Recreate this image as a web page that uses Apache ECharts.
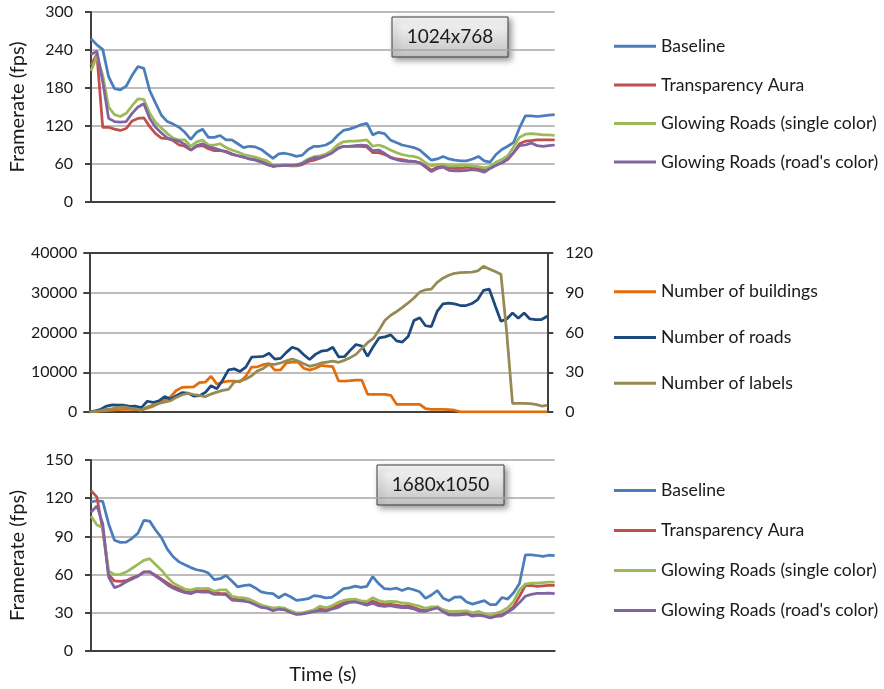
<!DOCTYPE html>
<html>
<head>
<meta charset="utf-8">
<script src="https://cdn.jsdelivr.net/npm/echarts@6/dist/echarts.min.js"></script>
<style>
  html, body { margin: 0; padding: 0; background: #ffffff; }
  #chart { width: 884px; height: 689px; }
</style>
</head>
<body>
<div id="chart"></div>
<script>
// Sample index along the recording (80 samples per run)
const timeSteps = Array.from({ length: 80 }, (_, i) => i);

// ---- 1024x768 framerate (fps) ----
const hdBaseline = [258,248,241,198,179,177,183,200,214,211,
  176,156,137,127,123,118,110,99,110,115,
  102,102,105,98,98,92,86,88,87,83,
  76,69,76,77,75,72,74,83,88,88,
  90,95,105,113,115,118,122,124,106,110,
  108,98,94,90,88,86,82,74,66,68,
  72,68,66,65,65,68,72,65,63,75,
  83,88,94,117,136,136,135,136,137,138];
const hdAura = [216,233,118,118,115,113,116,128,132,133,
  119,108,101,100,97,90,88,82,88,89,
  84,81,81,80,76,73,71,68,67,65,
  60,56,58,58,57,57,59,64,66,69,
  73,79,85,88,88,88,88,87,78,78,
  75,71,68,67,65,64,62,57,50,55,
  57,54,53,53,55,54,53,50.5,54,58,
  62,67,78,92,96,97,98,98,98,98];
const hdGlowSingle = [207,230,200,150,138,135,140,152,163,162,
  140,126,117,108,101,98,98,88,95,98,
  90,90,92,86,82,79,75,73,71,68,
  65,58,58,59,58,58,62,68,71.5,73,
  75.5,81,90,95,96,96,97,98,88,90,
  87,82,78,75,73,72,69,62,57,59,
  60,57,57,58,58,57,56,54,56,63,
  67,73,87,102,107,108,107,106,106,105];
const hdGlowRoad = [233,238,190,132,127,126,127,140,150,155,
  132,118,109,101,98,96,91,82,89,92,
  87,85,82,79,75,73,71,68,66,63,
  59,57,57,58,58,58.5,60.5,66,70,70,
  73,77,84,88,88,89,90,89,81,82,
  77,70,67,65,64,64,62,55,48,53,
  55,50,49,49,50,51,50,47,53,58,
  62,68,78,89,90,93,89,88,89,90];

// ---- Scene content ----
const buildings = [0,100,250,350,500,600,670,670,600,500,
  950,1450,2200,3100,3800,5400,6200,6280,6300,7400,
  7500,9000,7000,7500,7780,7780,7600,9000,11300,11380,
  11900,12200,10540,10600,12380,12550,12550,11000,10540,11000,
  11700,11550,11400,7800,7780,7900,8030,8030,4440,4440,
  4440,4440,4200,1920,1920,1920,1920,1920,840,670,
  670,670,600,450,50,30,30,30,30,30,
  30,30,30,30,30,30,30,30,30,30];
const roads = [0,300,700,1500,1800,1700,1700,1400,1450,1100,
  2700,2400,2800,3900,3200,4100,4850,4750,4000,4100,
  4900,6600,5860,8000,10600,10850,10200,11300,13800,13900,
  14000,14800,13300,13500,15000,16300,15800,14400,13200,14500,
  15300,15480,16300,13890,13900,15500,16990,16600,14000,16500,
  18660,18900,19400,17900,17600,19000,23000,23700,21700,21500,
  25300,27200,27400,27200,26780,26780,27280,28300,30600,30900,
  26800,22850,23400,24900,23600,24900,23400,23260,23260,24100];
const labels = [0,0.5,1,2,2.5,3.5,3.8,3,2,1.5,
  3.8,5.2,6.5,7.4,8.5,11,13,14,13.2,12.5,
  11.5,13.5,15,16.3,17,22.6,23.5,24.8,27.4,31,
  32.9,36,36,37,38.6,40,38.5,36.5,34.5,35.5,
  37,37.7,38.4,37.5,39,41,43.5,48,52.3,55.5,
  62,69.3,73,75.8,79,82.3,86,90.5,92.2,92.8,
  97.9,101,103.2,104.7,105.2,105.4,105.6,106.5,109.9,108,
  106,104,60,6.5,6.5,6.5,6.3,5.8,4.5,5];

// ---- 1680x1050 framerate (fps) ----
const fhdBaseline = [117,118,117.5,100,87,85.3,85.5,88.5,92.5,102.5,
  102,95,89,80,74,70,67.7,65.5,63.8,63,
  61.2,56,56.8,59.3,55,50.3,51.3,52,49.5,46.5,
  45.5,45,41.8,44.7,42.6,39.7,40.4,41.1,43.5,42.9,
  41.7,42.1,45.2,48.9,49.6,51,50,50.8,58.5,53,
  48.9,48.5,49.4,47.5,49.3,48.1,46.5,41.3,44,47.5,
  41.5,39.5,42.4,42.5,38.5,36.8,38.2,39.6,36.5,36.5,
  42,40.8,45.7,53,75.4,75.4,75,74.3,75.2,75];
const fhdAura = [126,121,95,60,55,54.6,55.2,57.5,59,62.2,
  62,59.5,56.5,53.5,50.6,48.9,46.7,46.3,47.9,47.5,
  47.3,46,45.3,45,41,40.8,41.1,40.5,38.1,35.1,
  34.4,33.6,33.6,32.5,30.4,29.1,29.2,30.7,31.6,33.3,
  32.6,34.5,35.6,37.6,39.5,40,38.8,37,39.3,37.4,
  36.5,36.7,36.1,35.3,35.6,34.2,32.6,31.8,33.2,34.6,
  31.5,29.1,29.1,29.3,29.7,28.6,28.1,28.5,26.7,28,
  28.5,31,35,43,51.3,51.6,50.8,51.2,51.5,51.5];
const fhdGlowSingle = [106,99,97,63,60,60.2,62,65,68,71.2,
  72.5,68,63.5,58,53.5,50.9,48.7,47.9,49.2,49,
  49.1,46.9,48,48.1,43,42.1,41.8,40.5,38.3,36.1,
  34.9,33.3,34.2,33.6,31.5,29.9,30,31.2,32.4,35.1,
  34,35.4,38,39.7,40.6,40.7,39.4,39,41.8,39.6,
  38.6,39,38.8,37.7,37.5,36.3,35.2,33.6,34.7,34.7,
  32.5,31.2,31.2,31.4,31.6,30,31.1,29.4,27.8,29.6,
  31.2,34,39,48,52.6,53.3,53.3,53.7,54,54];
const fhdGlowRoad = [109,114,100,58,49.8,51.5,54.4,56.6,58.7,62,
  62.3,58.8,55.7,52,49.2,47.3,45.8,45,46.7,46.3,
  46.3,44.4,44.5,44.2,40,39.5,39.2,38.3,36.4,34.2,
  33.6,31.7,32.8,32.3,30.2,28.7,29.2,29.9,31,31.7,
  31.3,32.8,34,36.5,38.2,38.6,37.4,35.9,37.6,35.6,
  35.1,35.6,34.7,34,34.1,33.1,31.3,31.2,32.6,33.9,
  30.8,28.3,28.1,28.4,29,27.4,28.1,27.4,26,27.2,
  27.6,30.5,33.5,38,43,44.5,45.2,45.3,45.5,45];

const FONT = 'Lato';
const TEXT = '#1a1a1a';
const axisDark = { color: '#404040', width: 2 };
const gridGray = { color: '#a6a6a6', width: 1.5 };

function valueAxis(opts, labelMargin) {
  return Object.assign({
    type: 'value',
    axisLine: { show: true, lineStyle: axisDark },
    axisTick: { show: true, inside: false, length: 6, lineStyle: axisDark },
    axisLabel: { margin: labelMargin, fontSize: 16, color: TEXT, fontFamily: FONT,
      formatter: (v) => String(v) },
    splitLine: { show: true, lineStyle: gridGray }
  }, opts);
}
function timeAxis(opts) {
  return Object.assign({
    type: 'category',
    boundaryGap: false,
    data: timeSteps,
    axisLine: { show: true, onZero: false, lineStyle: axisDark },
    axisTick: { show: false },
    axisLabel: { show: false },
    splitLine: { show: false }
  }, opts);
}
function line(name, data, color, xi, yi) {
  return {
    type: 'line', name: name, data: data,
    xAxisIndex: xi, yAxisIndex: yi,
    symbol: 'none', smooth: false,
    lineStyle: { color: color, width: 2.75 },
    itemStyle: { color: color }
  };
}
function legendBlock(names, top, gap) {
  return {
    data: names, orient: 'vertical', left: 614, top: top, padding: 0,
    icon: 'rect', itemWidth: 42, itemHeight: 3, itemGap: gap,
    selectedMode: false,
    textStyle: { fontSize: 17.6, color: TEXT, fontFamily: FONT, lineHeight: 20 }
  };
}
function resolutionTag(text, x, y, w, h) {
  return {
    type: 'group', z: 100,
    children: [
      { type: 'rect', shape: { x: x, y: y, width: w, height: h },
        style: {
          fill: { type: 'linear', x: 0, y: 0, x2: 0, y2: 1,
            colorStops: [{ offset: 0, color: '#fbfbfb' }, { offset: 1, color: '#c2c2c2' }] },
          stroke: '#3c3c3c', lineWidth: 1,
          shadowBlur: 6, shadowOffsetX: 3, shadowOffsetY: 3, shadowColor: 'rgba(0,0,0,0.4)'
        } },
      { type: 'text',
        style: { text: text, x: x + w / 2, y: y + h / 2, align: 'center', verticalAlign: 'middle',
          fontSize: 19, fontFamily: FONT, fill: TEXT } }
    ]
  };
}

const C = { blue: '#4a7ebb', red: '#c0504d', green: '#9bbb59', purple: '#8064a2',
  orange: '#e46c0a', navy: '#1f497d', olive: '#948a54' };
const fpsNames = ['Baseline', 'Transparency Aura', 'Glowing Roads (single color)', "Glowing Roads (road's color)"];
const axisTitle = { fontSize: 20, color: TEXT, fontFamily: FONT };

const chart = echarts.init(document.getElementById('chart'), null, { renderer: 'canvas' });
chart.setOption({
  animation: false,
  backgroundColor: '#ffffff',
  textStyle: { fontFamily: FONT },
  grid: [
    { left: 90.7, top: 12, width: 464, height: 190 },
    { left: 89.3, top: 253, width: 458, height: 159 },
    { left: 90.7, top: 460, width: 464, height: 191 }
  ],
  xAxis: [
    timeAxis({ gridIndex: 0 }),
    timeAxis({ gridIndex: 1 }),
    timeAxis({ gridIndex: 1, position: 'top' }),
    timeAxis({ gridIndex: 2, name: 'Time (s)', nameLocation: 'middle', nameGap: 14,
      nameTextStyle: axisTitle })
  ],
  yAxis: [
    valueAxis({ gridIndex: 0, min: 0, max: 300, interval: 60,
      name: 'Framerate (fps)', nameLocation: 'middle', nameRotate: 90, nameGap: 63,
      nameTextStyle: axisTitle }, 18),
    valueAxis({ gridIndex: 1, min: 0, max: 40000, interval: 10000 }, 12),
    valueAxis({ gridIndex: 1, position: 'right', min: 0, max: 120, interval: 30,
      splitLine: { show: false } }, 18),
    valueAxis({ gridIndex: 2, min: 0, max: 150, interval: 30,
      name: 'Framerate (fps)', nameLocation: 'middle', nameRotate: 90, nameGap: 63,
      nameTextStyle: axisTitle }, 18)
  ],
  legend: [
    legendBlock(fpsNames, 36.3, 18.6),
    legendBlock(['Number of buildings', 'Number of roads', 'Number of labels'], 281.7, 25.8),
    legendBlock(fpsNames, 480.5, 20)
  ],
  graphic: [
    resolutionTag('1024x768', 392, 17, 116, 40),
    resolutionTag('1680x1050', 377, 465, 127, 40)
  ],
  series: [
    line('Baseline', hdBaseline, C.blue, 0, 0),
    line('Transparency Aura', hdAura, C.red, 0, 0),
    line('Glowing Roads (single color)', hdGlowSingle, C.green, 0, 0),
    line("Glowing Roads (road's color)", hdGlowRoad, C.purple, 0, 0),

    line('Number of buildings', buildings, C.orange, 1, 1),
    line('Number of roads', roads, C.navy, 1, 1),
    line('Number of labels', labels, C.olive, 1, 2),

    line('Baseline', fhdBaseline, C.blue, 3, 3),
    line('Transparency Aura', fhdAura, C.red, 3, 3),
    line('Glowing Roads (single color)', fhdGlowSingle, C.green, 3, 3),
    line("Glowing Roads (road's color)", fhdGlowRoad, C.purple, 3, 3)
  ]
});
</script>
</body>
</html>
